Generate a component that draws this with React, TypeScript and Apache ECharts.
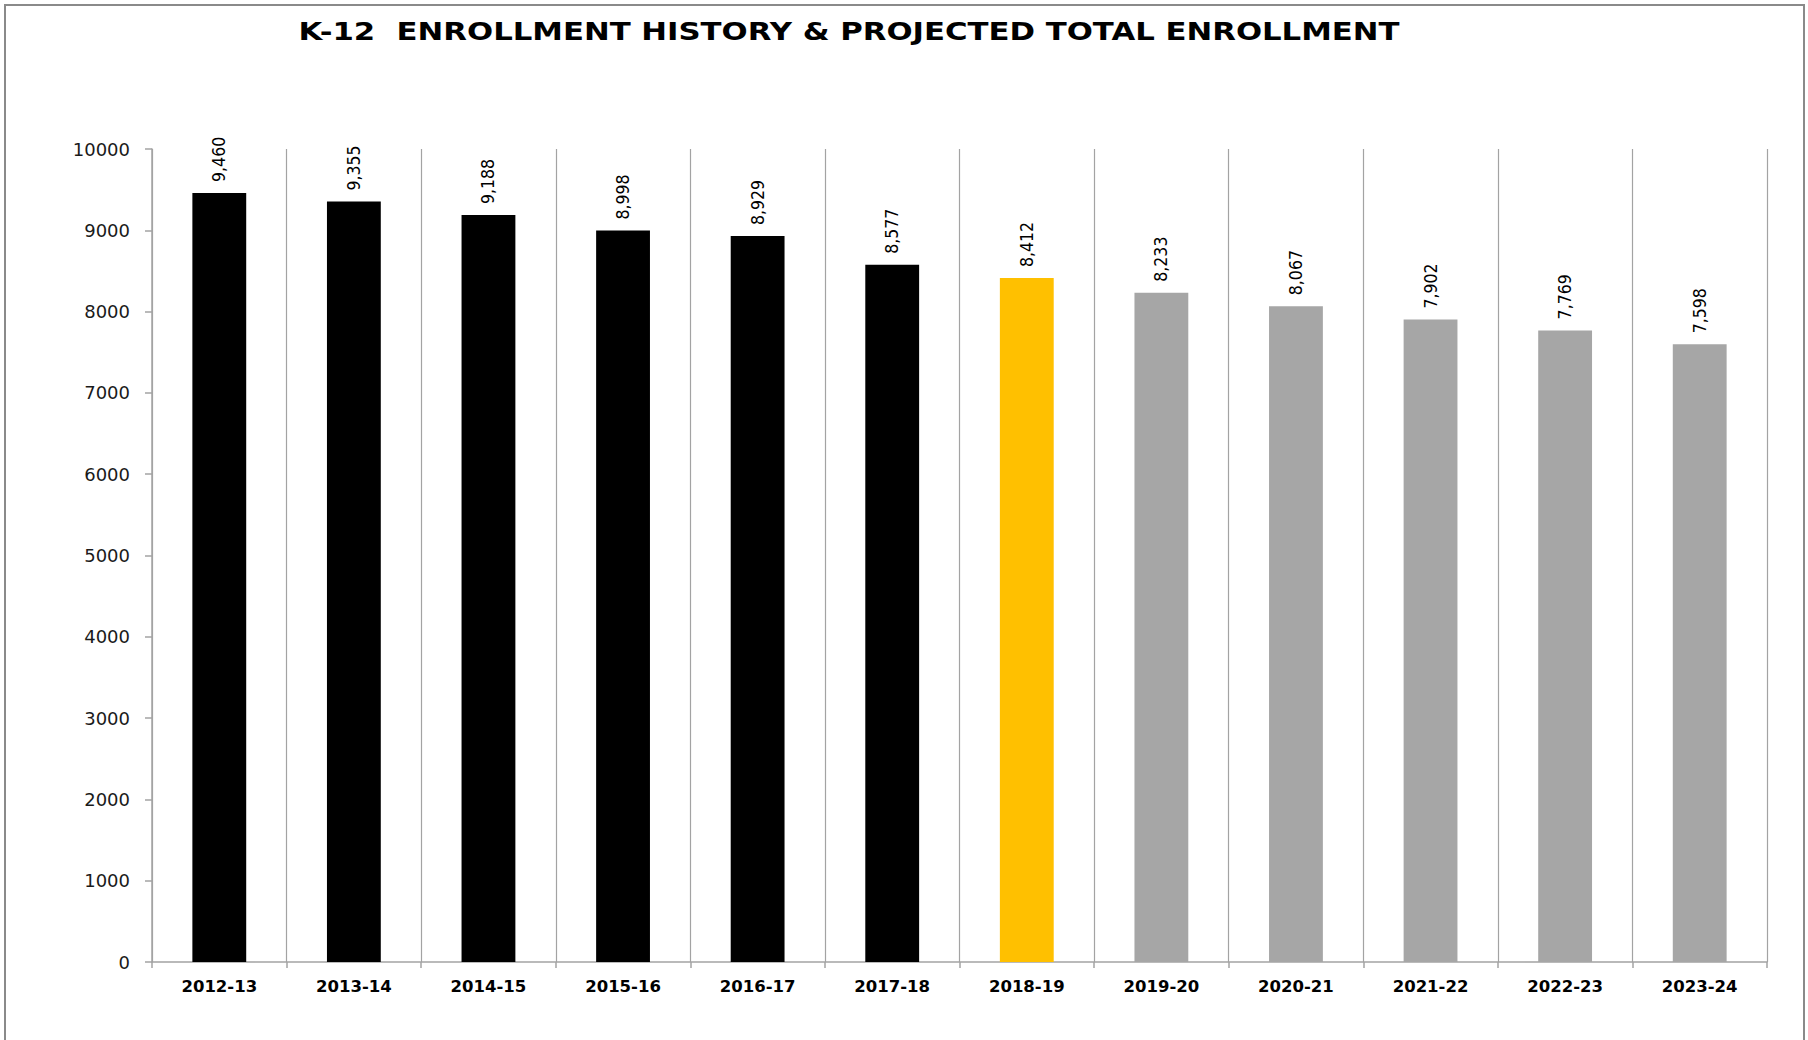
import React, { useEffect, useRef } from "react";
import * as echarts from "echarts";

const TITLE = "K-12  ENROLLMENT HISTORY & PROJECTED TOTAL ENROLLMENT";
const categories = [
  "2012-13", "2013-14", "2014-15", "2015-16", "2016-17", "2017-18",
  "2018-19", "2019-20", "2020-21", "2021-22", "2022-23", "2023-24",
];
const enrollment = [9460, 9355, 9188, 8998, 8929, 8577, 8412, 8233, 8067, 7902, 7769, 7598];
// status per year: history, current, projected
const status = [
  "history", "history", "history", "history", "history", "history",
  "current", "projected", "projected", "projected", "projected", "projected",
];
const statusColors: Record<string, string> = {
  history: "#000000",
  current: "#FFC000",
  projected: "#A6A6A6",
};
const yMin = 0;
const yMax = 10000;
const yInterval = 1000;

export default function App() {
  const ref = useRef<HTMLDivElement>(null);
  useEffect(() => {
    if (!ref.current) return;
    const chart = echarts.init(ref.current, undefined, { renderer: "svg" });
    const grid = "#A3A3A3";
    chart.setOption({
      animation: false,
      backgroundColor: "#ffffff",
      graphic: [
        {
          type: "rect",
          shape: { x: 5, y: 5, width: 1799, height: 1060 },
          style: { fill: "none", stroke: "#8a8a8a", lineWidth: 2 },
          silent: true,
        },
        {
          type: "text",
          x: 849,
          y: 32,
          scaleX: 1.23,
          style: {
            text: TITLE,
            fontFamily: "DejaVu Sans",
            fontWeight: "bold",
            fontSize: 25,
            fill: "#000000",
            align: "center",
            verticalAlign: "middle",
          },
        },
      ],
      grid: { left: 152, right: 41, top: 149, bottom: 78, containLabel: false },
      xAxis: {
        type: "category",
        data: categories,
        boundaryGap: true,
        axisLine: { show: true, lineStyle: { color: grid, width: 1.5 } },
        axisTick: { show: true, alignWithLabel: false, length: 6, inside: false, lineStyle: { color: grid, width: 1.5 } },
        splitLine: { show: true, lineStyle: { color: grid, width: 1.2 } },
        axisLabel: {
          margin: 16,
          color: "#000000",
          fontFamily: "DejaVu Sans",
          fontWeight: "bold",
          fontSize: 16.5,
          interval: 0,
        },
      },
      yAxis: {
        type: "value",
        min: yMin,
        max: yMax,
        interval: yInterval,
        axisLine: { show: true, lineStyle: { color: grid, width: 1.5 } },
        axisTick: { show: true, length: 7, inside: false, lineStyle: { color: grid, width: 1.5 } },
        splitLine: { show: false },
        axisLabel: {
          margin: 22,
          color: "#1a1a1a",
          fontFamily: "DejaVu Sans",
          fontSize: 18,
          formatter: (v: number) => String(v),
        },
      },
      series: [
        {
          type: "bar",
          barWidth: "40%",
          data: enrollment.map((v, i) => ({
            value: v,
            itemStyle: { color: statusColors[status[i]] },
          })),
          label: {
            show: true,
            position: "top",
            distance: 11,
            rotate: 90,
            align: "left",
            verticalAlign: "middle",
            color: "#000000",
            fontFamily: "'DejaVu Sans Condensed', sans-serif",
            fontSize: 17.5,
            formatter: (p: any) => Number(p.value).toLocaleString("en-US"),
          },
        },
      ],
    });
    return () => chart.dispose();
  }, []);
  return (
    <div
      ref={ref}
      style={{ position: "fixed", left: 0, top: 0, width: 1808, height: 1040, background: "#fff" }}
    />
  );
}
